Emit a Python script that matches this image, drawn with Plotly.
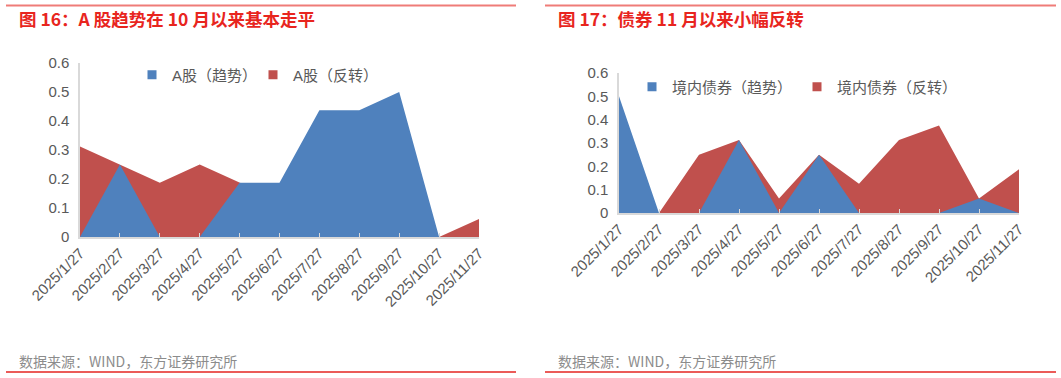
import plotly.graph_objects as go

W, H = 1061, 378

dates = ["2025/1/27", "2025/2/27", "2025/3/27", "2025/4/27", "2025/5/27", "2025/6/27",
         "2025/7/27", "2025/8/27", "2025/9/27", "2025/10/27", "2025/11/27"]

# Left chart: A股
a_trend = [0, 0.25, 0, 0, 0.1875, 0.1875, 0.4375, 0.4375, 0.5, 0, 0]
a_reversal = [0.3125, 0.25, 0.1875, 0.25, 0.1875, 0.125, 0.0625, 0.125, 0.0625, 0, 0.0625]

# Right chart: 境内债券
b_trend = [0.5, 0, 0, 0.3125, 0, 0.25, 0, 0, 0, 0.0625, 0]
b_reversal = [0, 0, 0.25, 0.3125, 0.0625, 0.25, 0.125, 0.3125, 0.375, 0.0625, 0.1875]

left_title = "图 16：A 股趋势在 10 月以来基本走平"
right_title = "图 17：债券 11 月以来小幅反转"
source = "数据来源：WIND，东方证券研究所"
left_names = ["A股（趋势）", "A股（反转）"]
right_names = ["境内债券（趋势）", "境内债券（反转）"]

BLUE = "#4F81BD"
RED = "#C0504D"
FONT = "Liberation Sans, Arial, Noto Sans CJK SC, sans-serif"
CJK = "Noto Sans CJK SC, sans-serif"

def px(x):
    return x / W

def py(y):
    return 1 - y / H

fig = go.Figure()

def add_panel(xa, ya, trend, rev, names, legend):
    fig.add_trace(go.Scatter(x=dates, y=rev, mode="lines", fill="tozeroy",
                             line=dict(width=0, color=RED), fillcolor=RED,
                             xaxis=xa, yaxis=ya, showlegend=False, hoverinfo="skip"))
    fig.add_trace(go.Scatter(x=dates, y=trend, mode="lines", fill="tozeroy",
                             line=dict(width=0, color=BLUE), fillcolor=BLUE,
                             xaxis=xa, yaxis=ya, showlegend=False, hoverinfo="skip"))
    for nm, col in zip(names, [BLUE, RED]):
        fig.add_trace(go.Scatter(x=[None], y=[None], mode="markers", name=nm,
                                 marker=dict(symbol="square", size=9, color=col),
                                 xaxis=xa, yaxis=ya, legend=legend, showlegend=True))

add_panel("x", "y", a_trend, a_reversal, left_names, "legend")
add_panel("x2", "y2", b_trend, b_reversal, right_names, "legend2")

xcommon = dict(type="category", range=[0, len(dates) - 1], tickangle=-45,
               showline=True, linecolor="#D9D9D9", linewidth=1.5,
               ticks="inside", ticklen=4, tickcolor="#D9D9D9", tickwidth=1,
               showgrid=False, zeroline=False, automargin=False,
               tickfont=dict(family=FONT, size=15, color="#595959"))
ycommon = dict(range=[0, 0.6], dtick=0.1, tick0=0, showline=True, linecolor="#D9D9D9",
               linewidth=1.5, ticks="", showgrid=False, zeroline=False,
               ticklabelstandoff=6, automargin=False,
               tickfont=dict(family=FONT, size=15, color="#595959"))

fig.update_layout(
    width=W, height=H, margin=dict(l=0, r=0, t=0, b=0, autoexpand=False),
    paper_bgcolor="white", plot_bgcolor="white",
    xaxis=dict(domain=[px(80), px(479)], anchor="y", **xcommon),
    yaxis=dict(domain=[py(237), py(63)], anchor="x", **ycommon),
    xaxis2=dict(domain=[px(619), px(1019)], anchor="y2", **xcommon),
    yaxis2=dict(domain=[py(213), py(73)], anchor="x2", **ycommon),
    legend=dict(orientation="h", x=px(132), y=py(75), xanchor="left", yanchor="middle",
                bgcolor="rgba(0,0,0,0)", font=dict(family=FONT, size=15, color="#595959"),
                itemwidth=30, entrywidth=76, entrywidthmode="pixels", tracegroupgap=0),
    legend2=dict(orientation="h", x=px(632), y=py(87), xanchor="left", yanchor="middle",
                 bgcolor="rgba(0,0,0,0)", font=dict(family=FONT, size=15, color="#595959"),
                 itemwidth=30, entrywidth=120, entrywidthmode="pixels", tracegroupgap=0),
    showlegend=True,
)

# Titles and sources
for x0, t in [(17, left_title), (556, right_title)]:
    fig.add_annotation(x=px(x0), y=py(18), xref="paper", yref="paper", xanchor="left",
                       yanchor="middle", showarrow=False, text="<b>" + t + "</b>",
                       font=dict(family=CJK, size=17.5, color="#E8251E"))
for x0 in [17, 556]:
    fig.add_annotation(x=px(x0), y=py(361), xref="paper", yref="paper", xanchor="left",
                       yanchor="middle", showarrow=False, text=source,
                       font=dict(family=CJK, size=14, color="#8C8C8C"))

# Red rules
for xa, xb in [(6, 516), (545, 1056)]:
    fig.add_shape(type="line", xref="paper", yref="paper", x0=px(xa), x1=px(xb),
                  y0=py(5.5), y1=py(5.5), line=dict(color="#EF7C78", width=2))
    fig.add_shape(type="line", xref="paper", yref="paper", x0=px(xa), x1=px(xb),
                  y0=py(372), y1=py(372), line=dict(color="#E52421", width=1.5))

fig.write_html("out.html", config={"displayModeBar": False},
               post_script="document.body.style.margin='0';document.body.style.overflow='hidden';")
